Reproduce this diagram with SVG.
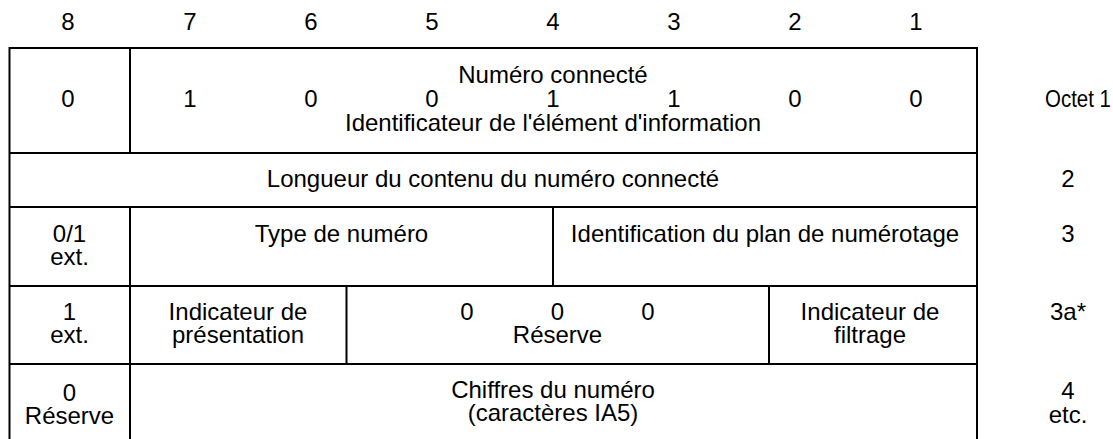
<svg xmlns="http://www.w3.org/2000/svg" width="1113" height="439" viewBox="0 0 1113 439">
<style>
text{font-family:"Liberation Sans",Arial,sans-serif;font-size:24px;fill:#000;text-anchor:middle}
.ln{stroke:#000;stroke-width:2;fill:none}
</style>
<rect width="1113" height="439" fill="#fff"/>
<g id="header">
<text x="68" y="30">8</text><text x="190" y="30">7</text><text x="311" y="30">6</text><text x="432" y="30">5</text>
<text x="553" y="30">4</text><text x="674" y="30">3</text><text x="795" y="30">2</text><text x="916" y="30">1</text>
</g>
<g id="connectors">
<path class="ln" d="M9.5 440V48H977V440"/>
<path class="ln" d="M130 48V153M9 153H977M9 207H977M130 207V440M553 207V286M9 286H977M346.5 286V364M769 286V364M9 364H977"/>
</g>
<g id="row1">
<text x="68" y="107">0</text>
<text x="553" y="83">Numéro connecté</text>
<text x="190" y="107">1</text><text x="311" y="107">0</text><text x="432" y="107">0</text><text x="553" y="107">1</text>
<text x="674" y="107">1</text><text x="795" y="107">0</text><text x="916" y="107">0</text>
<text x="553" y="131">Identificateur de l'élément d'information</text>
<text x="1045" y="107" style="text-anchor:start;font-size:23px" textLength="66" lengthAdjust="spacingAndGlyphs">Octet 1</text>
</g>
<g id="row2">
<text x="493" y="187">Longueur du contenu du numéro connecté</text>
<text x="1068" y="187">2</text>
</g>
<g id="row3">
<text x="69.5" y="242">0/1</text><text x="69.5" y="265">ext.</text>
<text x="341.5" y="242">Type de numéro</text>
<text x="765" y="242">Identification du plan de numérotage</text>
<text x="1068" y="242">3</text>
</g>
<g id="row4">
<text x="69.5" y="320">1</text><text x="69.5" y="343">ext.</text>
<text x="238" y="320">Indicateur de</text><text x="238" y="343">présentation</text>
<text x="467" y="320">0</text><text x="557.5" y="320">0</text><text x="648" y="320">0</text>
<text x="557.5" y="343">Réserve</text>
<text x="870" y="320">Indicateur de</text><text x="870" y="343">filtrage</text>
<text x="1068" y="320">3a*</text>
</g>
<g id="row5">
<text x="69.5" y="401">0</text><text x="69.5" y="424">Réserve</text>
<text x="553" y="398">Chiffres du numéro</text><text x="553" y="421">(caractères IA5)</text>
<text x="1068" y="399">4</text><text x="1068" y="423">etc.</text>
</g>
</svg>
